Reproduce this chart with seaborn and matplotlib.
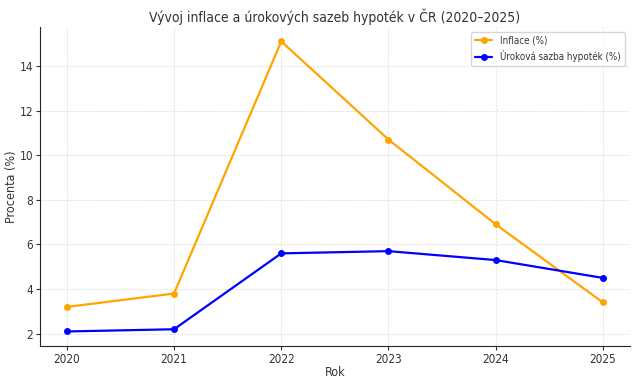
import seaborn as sns
import matplotlib.pyplot as plt
import pandas as pd

# Data
years = [2020, 2021, 2022, 2023, 2024, 2025]
inflace = [3.2, 3.8, 15.1, 10.7, 6.9, 3.4]
sazba = [2.1, 2.2, 5.6, 5.7, 5.3, 4.5]

df = pd.DataFrame({
    "Rok": years * 2,
    "Hodnota": inflace + sazba,
    "Serie": ["Inflace (%)"] * 6 + ["Úroková sazba hypoték (%)"] * 6,
})

sns.set_style("ticks")
plt.rcParams["font.family"] = ["DejaVu Sans"]
plt.rcParams["font.stretch"] = "condensed"
plt.rcParams["text.color"] = "#333333"
plt.rcParams["axes.labelcolor"] = "#333333"
plt.rcParams["xtick.color"] = "#333333"
plt.rcParams["ytick.color"] = "#333333"

fig, ax = plt.subplots(figsize=(6.4, 3.84), dpi=100)
fig.subplots_adjust(left=0.0625, right=0.984, top=0.93, bottom=0.099)

sns.lineplot(data=df, x="Rok", y="Hodnota", hue="Serie",
             palette=["orange", "blue"], marker="o", markersize=5,
             markeredgewidth=0, linewidth=1.6, ax=ax)

ax.set_title("Vývoj inflace a úrokových sazeb hypoték v ČR (2020–2025)",
             fontsize=10, pad=3.5)
ax.set_xlabel("Rok", fontsize=9, labelpad=0)
ax.set_ylabel("Procenta (%)", fontsize=9, labelpad=1)
ax.set_xticks(years)
ax.tick_params(labelsize=8.5, length=3, pad=2)
ax.grid(True, linestyle="--", linewidth=0.5, color="#dcdcdc")
sns.despine(ax=ax)

leg = ax.legend(fontsize=7, loc="upper right", frameon=True, handlelength=1.8)
leg.set_title(None)

# Save the plot
plt.savefig("out.png", dpi=100)
